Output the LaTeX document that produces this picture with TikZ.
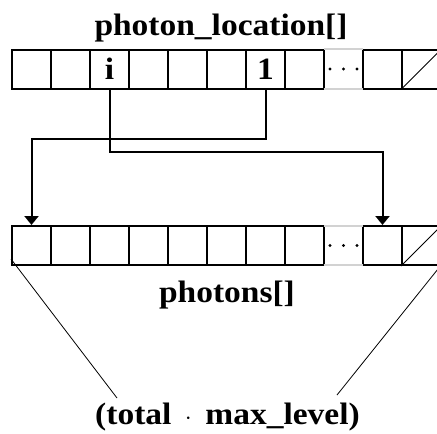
\documentclass[tikz,border=0pt]{standalone}
\usepackage{fontspec}
\setmainfont{Liberation Serif}[FakeStretch=1.08]
\usetikzlibrary{arrows.meta}
\newcommand{\arrfont}{\fontsize{31}{36}\selectfont\bfseries}
\begin{document}
\begin{tikzpicture}[x=1pt, y=-1pt, >={Triangle[width=14pt,length=9pt]},
    cell/.style={draw, line width=2pt, minimum size=39pt, inner sep=0pt, font=\arrfont},
    gap/.style={minimum size=39pt, inner sep=0pt},
    conn/.style={->, line width=2pt},
    spread/.style={line width=0.8pt},
    caption/.style={font=\arrfont, inner sep=0pt, anchor=base}]
    \useasboundingbox (0,0) rectangle (437,434);
    \clip (0,0) rectangle (437,434);

    % photon_location[]
    \node[caption] (loctitle) at (221,35) {photon\_location[]};
    \foreach \i in {1,...,8,10,11}
        \node[cell] (loc\i) at ({39*\i-7.5},69) {};
    \node[gap] (loc9) at (343.5,69) {};
    \node[font=\arrfont, inner sep=0pt] at (loc3) {i};
    \node[font=\arrfont, inner sep=0pt] at (loc7) {1};

    % photons[]
    \foreach \i in {1,...,8,10,11}
        \node[cell] (ph\i) at ({39*\i-7.5},245.5) {};
    \node[gap] (ph9) at (343.5,245.5) {};
    \node[caption] (phtitle) at (227,302) {photons[]};

    % gaps with dots
    \foreach \row in {loc,ph} {
        \draw[gray!35, line width=2pt] (\row9.north west) -- (\row9.north east)
            (\row9.south west) -- (\row9.south east);
        \foreach \dx in {-13.5,0,13.5}
            \fill ([xshift=\dx]\row9.center) circle (1.6);
        \draw[line width=1pt] (\row11.south west) -- (\row11.north east);
    }

    % pointers
    \draw[conn] (loc7.south) -- ++(0,49) -| (ph1.north);
    \draw[conn] (loc3.south) -- ++(0,62.5) -| (ph10.north);

    % size
    \node[caption] (size) at (227.5,424) {(total\, $\cdot$\, max\_level)};
    \coordinate (sizeL) at (117,398);
    \coordinate (sizeR) at (337,395);
    \draw[spread] ([yshift=7]ph1.south west) -- (sizeL);
    \draw[spread] ([yshift=2]ph11.south east) -- (sizeR);
\end{tikzpicture}
\end{document}
